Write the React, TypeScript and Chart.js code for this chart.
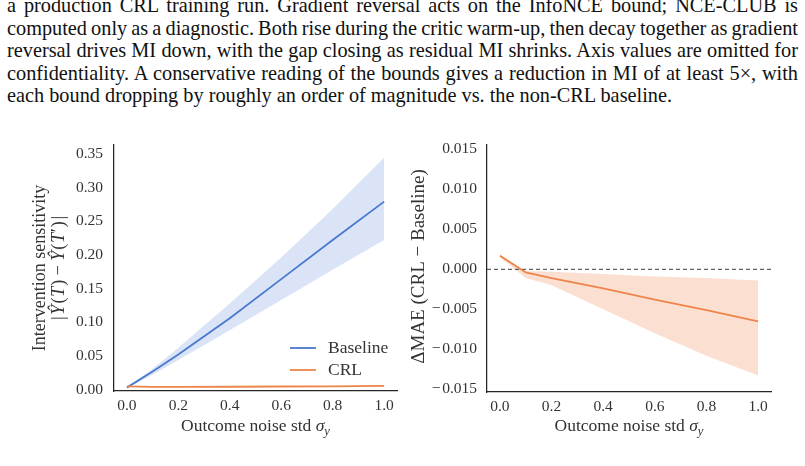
import React, { useEffect, useRef } from 'react';
import { Chart, registerables } from 'chart.js';

Chart.register(...registerables);

// Caption text above the figure (one entry per typeset line)
const captionLines = [
  'a production CRL training run.  Gradient reversal acts on the InfoNCE bound; NCE-CLUB is',
  'computed only as a diagnostic. Both rise during the critic warm-up, then decay together as gradient',
  'reversal drives MI down, with the gap closing as residual MI shrinks. Axis values are omitted for',
  'confidentiality.  A conservative reading of the bounds gives a reduction in MI of at least 5\u00d7, with',
  'each bound dropping by roughly an order of magnitude vs. the non-CRL baseline.',
];

// Outcome noise levels (shared x values)
const noiseStd = [0, 0.1, 0.2, 0.4, 0.6, 0.8, 1.0];

// Left panel: intervention sensitivity
const baselineSens = [0.003, 0.027, 0.052, 0.106, 0.164, 0.222, 0.279];
const baselineSensLo = [0.003, 0.022, 0.044, 0.088, 0.133, 0.178, 0.222];
const baselineSensHi = [0.003, 0.031, 0.062, 0.128, 0.196, 0.268, 0.344];
const crlSens = [0.005, 0.004, 0.004, 0.0043, 0.0047, 0.005, 0.0055];
const crlSensLo = [0.0045, 0.0036, 0.0036, 0.0039, 0.0042, 0.0045, 0.0049];
const crlSensHi = [0.0055, 0.0044, 0.0044, 0.0047, 0.0052, 0.0055, 0.0061];

// Right panel: MAE difference (CRL - Baseline)
const deltaMae = [0.0017, -0.0004, -0.0011, -0.0024, -0.0038, -0.0051, -0.0065];
const deltaMaeLo = [0.0015, -0.0011, -0.002, -0.005, -0.008, -0.0108, -0.0133];
const deltaMaeHi = [0.0019, -0.0002, -0.0003, -0.0006, -0.0009, -0.0011, -0.0014];

// Tick values
const xTicks = [0, 0.2, 0.4, 0.6, 0.8, 1.0];
const sensTicks = [0, 0.05, 0.1, 0.15, 0.2, 0.25, 0.3, 0.35];
const maeTicks = [-0.015, -0.01, -0.005, 0, 0.005, 0.01, 0.015];

const BLUE = '#4878d0';
const BLUE_BAND = 'rgba(72,120,208,0.2)';
const ORANGE = '#ee854a';
const ORANGE_BAND = 'rgba(238,133,74,0.25)';
const INK = '#333333';
const AXIS = '#262626';
const SERIF = '"Liberation Serif", "Times New Roman", serif';
const TITLE_SIZE = 17.5;
const TICK_SIZE = 15.5;

type Part = { t: string; it?: boolean; sub?: boolean; gap?: number };

function drawParts(
  ctx: CanvasRenderingContext2D,
  parts: Part[],
  size: number,
  cx: number,
  cy: number,
  vertical: boolean,
) {
  const fontFor = (p: Part) =>
    `${p.it ? 'italic ' : ''}${p.sub ? size * 0.72 : size}px ${SERIF}`;
  ctx.save();
  let total = 0;
  const widths = parts.map((p) => {
    ctx.font = fontFor(p);
    const w = ctx.measureText(p.t).width + (p.gap || 0);
    total += w;
    return w;
  });
  ctx.translate(cx, cy);
  if (vertical) ctx.rotate(-Math.PI / 2);
  ctx.fillStyle = INK;
  ctx.textBaseline = 'middle';
  ctx.textAlign = 'left';
  let x = -total / 2;
  parts.forEach((p, i) => {
    ctx.font = fontFor(p);
    ctx.fillText(p.t, x, p.sub ? size * 0.32 : 0);
    x += widths[i];
  });
  ctx.restore();
}

const xTitle: Part[] = [
  { t: 'Outcome noise std ' },
  { t: '\u03c3', it: true },
  { t: 'y', it: true, sub: true },
];

const sensTitle1: Part[] = [{ t: 'Intervention sensitivity' }];
const sensTitle2: Part[] = [
  { t: '|', gap: 1.5 },
  { t: '\u0176', it: true, gap: 1 },
  { t: '(', gap: 0.5 },
  { t: 'T', it: true, gap: 1 },
  { t: ')', gap: 4 },
  { t: '\u2212', gap: 4 },
  { t: '\u0176', it: true, gap: 1 },
  { t: '(', gap: 0.5 },
  { t: 'T', it: true, gap: 0.5 },
  { t: '\u2032', gap: 1 },
  { t: ')', gap: 1.5 },
  { t: '|' },
];
const maeTitle: Part[] = [{ t: '\u0394MAE (CRL \u2212 Baseline)' }];

const pts = (ys: number[]) => noiseStd.map((x, i) => ({ x, y: ys[i] }));

function band(hi: number[], lo: number[], color: string) {
  return [
    {
      data: pts(hi),
      borderWidth: 0,
      pointRadius: 0,
      fill: '+1',
      backgroundColor: color,
      order: 3,
    },
    {
      data: pts(lo),
      borderWidth: 0,
      pointRadius: 0,
      fill: false,
      order: 3,
    },
  ];
}

function baseOptions(
  yMin: number,
  yMax: number,
  yTickVals: number[],
  yDigits: number,
  yWidth: number,
  yPad: number,
  padding: { left: number; top: number; right: number; bottom: number },
) {
  const tickFont = { family: SERIF, size: TICK_SIZE };
  const fmt = (v: number, d: number) => {
    const s = Math.abs(v).toFixed(d);
    return v < -1e-12 ? '\u2212\u200a' + s : s;
  };
  return {
    responsive: false,
    animation: false as const,
    layout: { padding },
    plugins: { legend: { display: false }, tooltip: { enabled: false } },
    scales: {
      x: {
        type: 'linear' as const,
        min: -0.05,
        max: 1.05,
        afterBuildTicks: (s: any) => {
          s.ticks = xTicks.map((value) => ({ value }));
        },
        afterFit: (s: any) => {
          s.height = 50;
        },
        ticks: {
          font: tickFont,
          color: INK,
          padding: 6,
          autoSkip: false,
          maxRotation: 0,
          callback: (v: any) => fmt(Number(v), 1),
        },
        grid: { display: false, drawTicks: false },
        border: { display: true, color: AXIS, width: 1.25 },
      },
      y: {
        type: 'linear' as const,
        min: yMin,
        max: yMax,
        afterBuildTicks: (s: any) => {
          s.ticks = yTickVals.map((value) => ({ value }));
        },
        afterFit: (s: any) => {
          s.width = yWidth;
        },
        ticks: {
          font: tickFont,
          color: INK,
          padding: yPad,
          autoSkip: false,
          callback: (v: any) => fmt(Number(v), yDigits),
        },
        grid: { display: false, drawTicks: false },
        border: { display: true, color: AXIS, width: 1.25 },
      },
    },
  };
}

function sensitivityConfig(): any {
  const titles = {
    id: 'sensTitles',
    afterDraw(chart: any) {
      const { ctx, chartArea: a } = chart;
      const midY = (a.top + a.bottom) / 2;
      drawParts(ctx, sensTitle1, 18, a.left - 74, midY, true);
      drawParts(ctx, sensTitle2, 18.5, a.left - 55, midY, true);
      drawParts(ctx, xTitle, TITLE_SIZE, (a.left + a.right) / 2, a.bottom + 35, false);

      // legend in the lower right of the plot area
      const entries = chart.data.datasets.filter((d: any) => d.label);
      ctx.save();
      ctx.font = `${TITLE_SIZE}px ${SERIF}`;
      ctx.textBaseline = 'middle';
      ctx.fillStyle = INK;
      entries.forEach((d: any, i: number) => {
        const y = a.bottom - 43 + i * 22;
        ctx.strokeStyle = d.borderColor;
        ctx.lineWidth = 1.8;
        ctx.beginPath();
        ctx.moveTo(a.right - 107, y);
        ctx.lineTo(a.right - 81, y);
        ctx.stroke();
        ctx.fillText(d.label, a.right - 69, y + 0.5);
      });
      ctx.restore();
    },
  };
  return {
    type: 'line',
    data: {
      datasets: [
        ...band(baselineSensHi, baselineSensLo, BLUE_BAND),
        ...band(crlSensHi, crlSensLo, ORANGE_BAND),
        {
          label: 'Baseline',
          data: pts(baselineSens),
          borderColor: BLUE,
          borderWidth: 1.8,
          pointRadius: 0,
          fill: false,
          order: 2,
        },
        {
          label: 'CRL',
          data: pts(crlSens),
          borderColor: ORANGE,
          borderWidth: 1.8,
          pointRadius: 0,
          fill: false,
          order: 1,
        },
      ],
    },
    options: baseOptions(-0.002, 0.363, sensTicks, 2, 114, 11, {
      left: 0,
      top: 25,
      right: 23,
      bottom: 9,
    }),
    plugins: [titles],
  };
}

function maeConfig(): any {
  const titles = {
    id: 'maeTitles',
    afterDraw(chart: any) {
      const { ctx, chartArea: a } = chart;
      const midY = (a.top + a.bottom) / 2;
      drawParts(ctx, maeTitle, 19, a.left - 68, midY - 2, true);
      drawParts(ctx, xTitle, TITLE_SIZE, (a.left + a.right) / 2, a.bottom + 34, false);
    },
  };
  return {
    type: 'line',
    data: {
      datasets: [
        ...band(deltaMaeHi, deltaMaeLo, ORANGE_BAND),
        {
          data: [
            { x: -0.05, y: 0 },
            { x: 1.05, y: 0 },
          ],
          borderColor: '#3a3a3a',
          borderWidth: 1,
          borderDash: [4, 3],
          pointRadius: 0,
          fill: false,
          order: 2,
        },
        {
          data: pts(deltaMae),
          borderColor: ORANGE,
          borderWidth: 1.8,
          pointRadius: 0,
          fill: false,
          order: 1,
        },
      ],
    },
    options: baseOptions(-0.01535, 0.01555, maeTicks, 3, 87, 10, {
      left: 0,
      top: 25,
      right: 34,
      bottom: 8,
    }),
    plugins: [titles],
  };
}

function ChartCanvas(props: {
  make: () => any;
  left: number;
  top: number;
  width: number;
  height: number;
}) {
  const ref = useRef<HTMLCanvasElement | null>(null);
  useEffect(() => {
    if (!ref.current) return;
    const chart = new Chart(ref.current, props.make());
    return () => chart.destroy();
  }, []);
  return (
    <canvas
      ref={ref}
      width={props.width}
      height={props.height}
      style={{
        position: 'absolute',
        left: props.left,
        top: props.top,
        width: props.width,
        height: props.height,
      }}
    />
  );
}

export default function App() {
  const last = captionLines.length - 1;
  return (
    <div
      style={{
        position: 'fixed',
        left: 0,
        top: 0,
        width: 805,
        height: 466,
        overflow: 'hidden',
        background: '#ffffff',
      }}
    >
      <div
        style={{
          position: 'absolute',
          left: 7,
          top: -5.6,
          width: 791,
          fontFamily: SERIF,
          fontSize: 20.3,
          lineHeight: '22.5px',
          color: '#111',
        }}
      >
        {captionLines.map((line, i) => (
          <div
            key={i}
            style={{
              whiteSpace: 'nowrap',
              wordSpacing: i === last ? 0 : -2.5,
              textAlign: i === last ? 'left' : 'justify',
              textAlignLast: i === last ? 'left' : 'justify',
            }}
          >
            {line}
          </div>
        ))}
      </div>
      <ChartCanvas make={sensitivityConfig} left={0} top={120} width={420} height={330} />
      <ChartCanvas make={maeConfig} left={400} top={120} width={405} height={330} />
    </div>
  );
}
